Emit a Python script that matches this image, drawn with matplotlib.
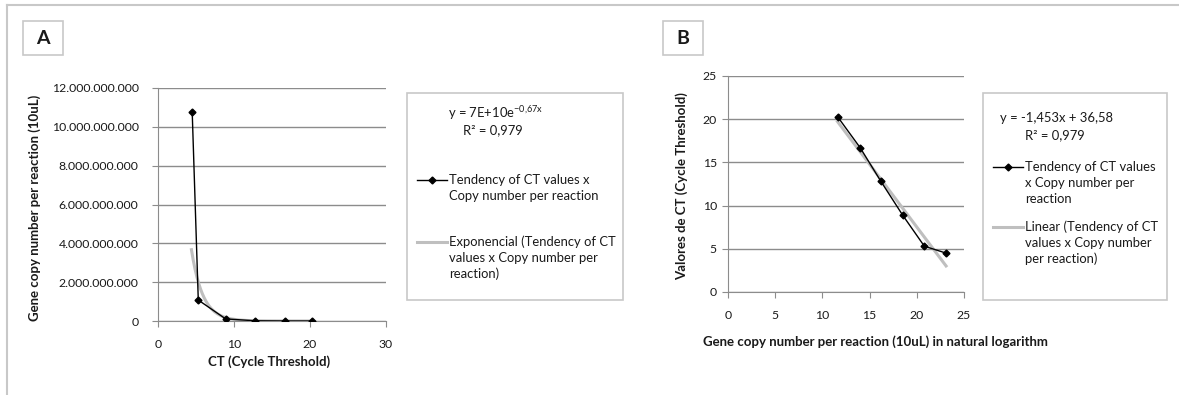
import numpy as np
import matplotlib.pyplot as plt
from matplotlib.ticker import FuncFormatter
from matplotlib.patches import Rectangle
from matplotlib.lines import Line2D

plt.rcParams['font.family'] = ['Lato', 'DejaVu Sans']

# data
ct = [4.5, 5.3, 8.9, 12.8, 16.7, 20.3]
ln_copies = [23.1, 20.8, 18.5, 16.2, 14.0, 11.6]
copies = np.exp(ln_copies)

# trendlines shown in the legends
exp_a, exp_b = 7e10, -0.67
lin_m, lin_c = -1.453, 36.58

W, H = 1179, 395
fig = plt.figure(figsize=(W / 100, H / 100), dpi=100)


def fx(px):
    return px / W


def fy(py):
    return 1 - py / H


grid_c = '#8c8c8c'
box_c = '#c8c8c8'
trend_c = '#bfbfbf'
txt_c = '#1a1a1a'
lab_fs = 9.5
leg_fs = 9.4
tick_fs = 8.8

# outer frame
fig.add_artist(Line2D([fx(7), 1], [fy(5), fy(5)], color=box_c, lw=1.5))
fig.add_artist(Line2D([fx(7), fx(7)], [fy(5), 0], color=box_c, lw=1.5))


def style_axes(ax, ypad):
    for s in ['top', 'right']:
        ax.spines[s].set_visible(False)
    for s in ['left', 'bottom']:
        ax.spines[s].set_color(grid_c)
    ax.grid(axis='y', color=grid_c, lw=1)
    ax.set_axisbelow(True)
    ax.tick_params(axis='both', colors=grid_c, labelcolor=txt_c, labelsize=tick_fs,
                   length=4, direction='out')
    ax.tick_params(axis='x', pad=9)
    ax.tick_params(axis='y', pad=ypad)


def panel_tag(x0, letter):
    fig.add_artist(Rectangle((fx(x0), fy(55)), fx(40), 34 / H, transform=fig.transFigure,
                             fill=False, edgecolor=box_c, lw=1.2))
    fig.text(fx(x0 + 20), fy(38), letter, ha='center', va='center', fontsize=14,
             fontweight='bold', color=txt_c)


def legend_box(x0, x1, eq, entries):
    fig.add_artist(Rectangle((fx(x0), fy(300)), fx(x1 - x0), 207 / H, transform=fig.transFigure,
                             fill=False, edgecolor=box_c, lw=1.2))
    for (tx, ty, s) in eq:
        fig.text(fx(tx), fy(ty), s, fontsize=leg_fs, color=txt_c, va='center')
    for (lx, ly, lines, is_trend) in entries:
        if is_trend:
            fig.add_artist(Line2D([fx(lx), fx(lx + 30)], [fy(ly), fy(ly)], color=trend_c, lw=2.2))
        else:
            fig.add_artist(Line2D([fx(lx), fx(lx + 30)], [fy(ly), fy(ly)], color='black', lw=1))
            fig.add_artist(Line2D([fx(lx + 15)], [fy(ly)], color='black', marker='D', ms=3.5))
        for i, s in enumerate(lines):
            fig.text(fx(lx + 32), fy(ly + i * 16), s, fontsize=leg_fs, color=txt_c, va='center')


# ---- panel A ----
axA = fig.add_axes([fx(158), fy(321), fx(386 - 158), (321 - 88) / H])
style_axes(axA, 10)
xs = np.linspace(min(ct) - 0.1, max(ct), 200)
axA.plot(xs, exp_a * np.exp(exp_b * xs), color=trend_c, lw=2.2, zorder=2)
axA.plot(ct, copies, color='black', lw=1, marker='D', ms=3.5, zorder=3)
axA.set_xlim(0, 30)
axA.set_ylim(0, 12e9)
axA.set_xticks([0, 10, 20, 30])
axA.set_yticks(np.arange(0, 12.1e9, 2e9))
axA.yaxis.set_major_formatter(FuncFormatter(lambda v, p: f'{v:,.0f}'.replace(',', '.')))
fig.text(fx(269), fy(362), 'CT (Cycle Threshold)', ha='center', va='center', fontsize=lab_fs,
         fontweight='bold', color=txt_c)
fig.text(fx(35), fy(208), 'Gene copy number per reaction (10uL)', ha='center', va='center',
         rotation=90, fontsize=lab_fs, fontweight='bold', color=txt_c)
panel_tag(23, 'A')
legend_box(407, 623,
           [(448, 113, r'y = 7E+10e$^{\mathregular{-0{,}67x}}$'), (463, 130, 'R² = 0,979')],
           [(417, 180, ['Tendency of CT values x', 'Copy number per reaction'], False),
            (417, 242, ['Exponencial (Tendency of CT', 'values x Copy number per', 'reaction)'], True)])

# ---- panel B ----
axB = fig.add_axes([fx(728), fy(292), fx(964 - 728), (292 - 76) / H])
style_axes(axB, 4)
xl = np.array([min(ln_copies), max(ln_copies)])
axB.plot(xl, lin_m * xl + lin_c, color=trend_c, lw=2.2, zorder=2)
axB.plot(ln_copies, ct, color='black', lw=1, marker='D', ms=3.5, zorder=3)
axB.set_xlim(0, 25)
axB.set_ylim(0, 25)
axB.set_xticks(np.arange(0, 26, 5))
axB.set_yticks(np.arange(0, 26, 5))
fig.text(fx(703), fy(342), 'Gene copy number per reaction (10uL) in natural logarithm',
         ha='left', va='center', fontsize=lab_fs, fontweight='bold', color=txt_c)
fig.text(fx(682), fy(186), 'Valores de CT (Cycle Threshold)', ha='center', va='center',
         rotation=90, fontsize=lab_fs, fontweight='bold', color=txt_c)
panel_tag(663, 'B')
legend_box(983, 1167,
           [(1000, 118, 'y = -1,453x + 36,58'), (1025, 135, 'R² = 0,979')],
           [(993, 167, ['Tendency of CT values', 'x Copy number per', 'reaction'], False),
            (993, 227, ['Linear (Tendency of CT', 'values x Copy number', 'per reaction)'], True)])

fig.savefig('out.png', dpi=100)
